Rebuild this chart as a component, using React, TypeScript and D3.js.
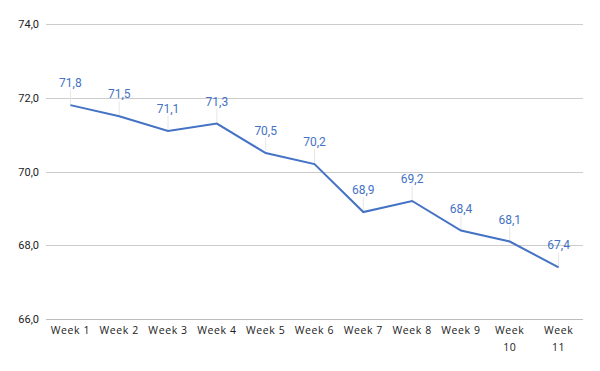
import React, { useEffect, useRef } from 'react';
import * as d3 from 'd3';

const weeks = ['Week 1', 'Week 2', 'Week 3', 'Week 4', 'Week 5', 'Week 6', 'Week 7', 'Week 8', 'Week 9', 'Week 10', 'Week 11'];
const values = [71.8, 71.5, 71.1, 71.3, 70.5, 70.2, 68.9, 69.2, 68.4, 68.1, 67.4];
const yTicks = [66, 68, 70, 72, 74];

const App = () => {
  const ref = useRef<SVGSVGElement>(null);

  useEffect(() => {
    const width = 600;
    const height = 371;
    const margin = { top: 24, right: 17, bottom: 52, left: 46 };

    const svg = d3.select(ref.current);
    svg.selectAll('*').remove();

    const x = d3
      .scalePoint()
      .domain(weeks)
      .range([margin.left, width - margin.right])
      .padding(0.5);

    const y = d3
      .scaleLinear()
      .domain([66, 74])
      .range([height - margin.bottom, margin.top]);

    const fmt = (v: number) => v.toFixed(1).replace('.', ',');

    // gridlines + y labels
    const grid = svg.append('g');
    grid
      .selectAll('line')
      .data(yTicks)
      .enter()
      .append('line')
      .attr('x1', margin.left)
      .attr('x2', width - margin.right)
      .attr('y1', (d) => Math.round(y(d)) + 0.5)
      .attr('y2', (d) => Math.round(y(d)) + 0.5)
      .attr('stroke', (d) => (d === 66 ? '#bdbdbd' : '#cccccc'))
      .attr('stroke-width', 1);

    grid
      .selectAll('text')
      .data(yTicks)
      .enter()
      .append('text')
      .attr('x', 39)
      .attr('y', (d) => y(d) + 4)
      .attr('text-anchor', 'end')
      .attr('font-family', 'Roboto, sans-serif')
      .attr('font-size', 11)
      .attr('fill', '#222')
      .text((d) => fmt(d));

    // x labels
    const xl = svg.append('g');
    weeks.forEach((w) => {
      const parts = w.split(' ');
      const wrap = parts[1].length > 1;
      const t = xl
        .append('text')
        .attr('x', x(w)!)
        .attr('y', height - margin.bottom + 15)
        .attr('text-anchor', 'middle')
        .attr('font-family', '"Open Sans", sans-serif')
        .attr('font-size', 10.5)
        .attr('letter-spacing', 0.6)
        .attr('fill', '#222');
      if (wrap) {
        t.append('tspan').attr('x', x(w)!).text(parts[0]);
        t.append('tspan').attr('x', x(w)!).attr('dy', 17).text(parts[1]);
      } else {
        t.text(w);
      }
    });

    // leader lines
    svg
      .append('g')
      .selectAll('line')
      .data(values)
      .enter()
      .append('line')
      .attr('x1', (d, i) => x(weeks[i])!)
      .attr('x2', (d, i) => x(weeks[i])!)
      .attr('y1', (d) => y(d))
      .attr('y2', (d) => y(d) - 15)
      .attr('stroke', '#e6e6e6')
      .attr('stroke-width', 1);

    const line = d3
      .line<number>()
      .x((d, i) => x(weeks[i])!)
      .y((d) => y(d));

    svg
      .append('path')
      .datum(values)
      .attr('d', line)
      .attr('fill', 'none')
      .attr('stroke', '#4472c4')
      .attr('stroke-width', 2);

    svg
      .append('g')
      .selectAll('text')
      .data(values)
      .enter()
      .append('text')
      .attr('x', (d, i) => x(weeks[i])!)
      .attr('y', (d) => y(d) - 18)
      .attr('text-anchor', 'middle')
      .attr('font-family', 'Roboto, sans-serif')
      .attr('font-size', 12)
      .attr('fill', '#4472c4')
      .text((d) => fmt(d));
  }, []);

  return (
    <svg ref={ref} width={600} height={371} style={{ display: 'block', position: 'absolute', left: 0, top: 0, background: '#fff' }} />
  );
};

export default App;
